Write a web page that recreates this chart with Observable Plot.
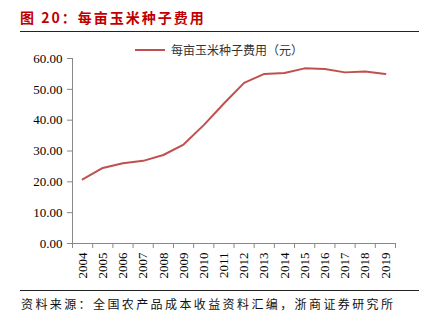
<!DOCTYPE html>
<html><head><meta charset="utf-8">
<script src="https://cdn.jsdelivr.net/npm/d3@7"></script>
<script src="https://cdn.jsdelivr.net/npm/@observablehq/plot@0.6"></script>
<style>
body{margin:0;background:#fff;width:421px;height:331px;position:relative;overflow:hidden;font-family:"Noto Sans CJK SC",sans-serif;}
#title{position:absolute;left:20px;top:7px;font-size:14px;font-weight:bold;color:#c00000;letter-spacing:2px;white-space:nowrap;line-height:20px;}
#rule1{position:absolute;left:20px;top:31px;width:399px;height:1px;background:#222;}
#rule2{position:absolute;left:20px;top:290px;width:399px;height:1px;background:#222;}
#chart{position:absolute;left:0;top:40px;}
#legend{position:absolute;left:135px;top:41px;font-size:12px;color:#333;white-space:nowrap;line-height:18px;display:flex;align-items:center;}
#legend .sw{display:inline-block;width:30px;height:2px;background:#c0504d;margin-right:6px;}
#caption{position:absolute;left:21px;top:295px;font-size:12px;color:#111;letter-spacing:2.4px;white-space:nowrap;line-height:18px;}
</style>
</head><body>
<div id="title">图 20：每亩玉米种子费用</div>
<div id="rule1"></div>
<div id="chart"></div>
<div id="legend"><span class="sw"></span><span id="legname"></span></div>
<div id="rule2"></div>
<div id="caption">资料来源：全国农产品成本收益资料汇编，浙商证券研究所</div>
<script>
const seriesName = "每亩玉米种子费用（元）";
const years = [2004, 2005, 2006, 2007, 2008, 2009, 2010, 2011, 2012, 2013, 2014, 2015, 2016, 2017, 2018, 2019];
const values = [20.8, 24.5, 26.0, 26.8, 28.7, 32.1, 38.4, 45.4, 52.1, 55.0, 55.3, 56.8, 56.6, 55.5, 55.8, 55.0];
const yTicks = [0, 10, 20, 30, 40, 50, 60];

document.getElementById("legname").textContent = seriesName;

const data = years.map((year, i) => ({year, value: values[i]}));
const xMin = years[0] - 0.5, xMax = years[years.length - 1] + 0.5;
const boundaries = years.map(y => y - 0.5).concat([xMax]);

const chart = Plot.plot({
  width: 421, height: 245,
  marginLeft: 72, marginRight: 26, marginTop: 18, marginBottom: 42,
  x: {type: "linear", domain: [xMin, xMax]},
  y: {domain: [0, 60]},
  style: {fontFamily: "'Liberation Serif', serif", fontSize: "13px", color: "#000", background: "transparent"},
  marks: [
    Plot.axisY({ticks: yTicks, tickFormat: d => d.toFixed(2), tickSize: 5, tickPadding: 5, stroke: "#888", label: null}),
    Plot.axisX({ticks: boundaries, tickFormat: () => "", tickSize: 5, stroke: "#888", label: null}),
    Plot.axisX({ticks: years, tickFormat: d => String(d), tickSize: 0, tickPadding: 9, tickRotate: -90, label: null}),
    Plot.ruleX([xMin], {stroke: "#888"}),
    Plot.ruleY([0], {stroke: "#888"}),
    Plot.line(data, {x: "year", y: "value", stroke: "#c0504d", strokeWidth: 2})
  ]
});
document.getElementById("chart").appendChild(chart);
</script>
</body></html>
